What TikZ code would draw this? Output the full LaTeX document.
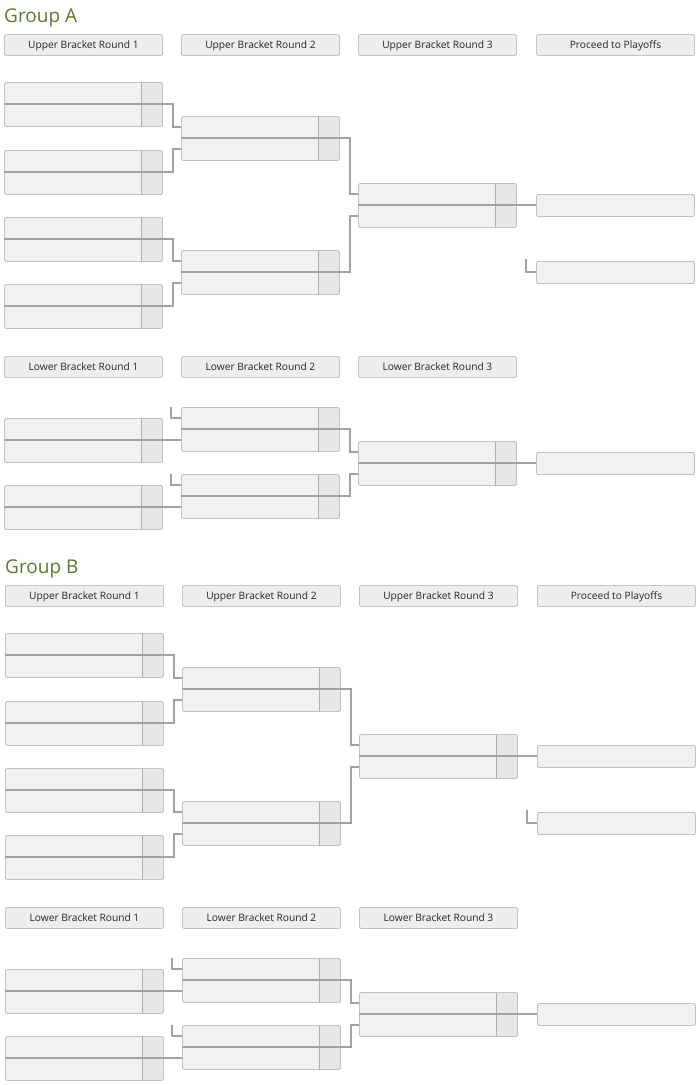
\documentclass[tikz,border=0pt]{standalone}
\usepackage{fontspec}
\setmainfont{Open Sans}
\definecolor{grouptext}{HTML}{5B7A2E}
\definecolor{headfill}{HTML}{EEEEEE}
\definecolor{headline}{HTML}{C4C4C4}
\definecolor{boxfill}{HTML}{F1F1F1}
\definecolor{boxline}{HTML}{C2C2C2}
\definecolor{scorefill}{HTML}{E7E7E7}
\definecolor{cellline}{HTML}{ADADAD}
\definecolor{wireline}{HTML}{A2A2A2}

% one match: box with score column, plus the two slot entry points
\newcommand\bgame[3]{%
  \node[game] (#1) at (#2,#3) {};
  \coordinate (#1t) at ([yshift=11pt]#1.west);
  \coordinate (#1b) at ([yshift=-11pt]#1.west);
}

\begin{document}
\begin{tikzpicture}[x=1pt,y=-1pt,
    grouptitle/.style={anchor=base west,inner sep=0pt,text=grouptext,font=\fontsize{19}{22}\selectfont},
    head/.style={anchor=north west,draw=headline,fill=headfill,line width=0.9pt,rounded corners=1.5pt,
      minimum width=158pt,minimum height=21pt,inner sep=0pt,text height=7.2pt,text depth=0pt,
      font=\fontsize{10.2}{12}\selectfont,text=black!85},
    game/.style={anchor=north west,draw=boxline,fill=boxfill,line width=0.9pt,rounded corners=1.5pt,
      minimum width=158pt,minimum height=44pt,inner sep=0pt,
      path picture={
        \fill[scorefill] ([xshift=-21pt]path picture bounding box.north east) rectangle (path picture bounding box.south east);
        \draw[cellline,line width=1.3pt] ([xshift=-21pt]path picture bounding box.north east) -- ([xshift=-21pt]path picture bounding box.south east);}},
    slot/.style={anchor=north west,draw=boxline,fill=boxfill,line width=0.9pt,rounded corners=1.5pt,
      minimum width=158pt,minimum height=22pt,inner sep=0pt},
    wire/.style={draw=wireline,line width=2pt}]
  \useasboundingbox (0,0) rectangle (700,1085);
  \fill[white] (0,0) rectangle (700,1085);
  \foreach \g/\dx/\dy in {A/0/0,B/1/551}{
    \begin{scope}[shift={(\dx,\dy)}]
      % upper bracket
      \node[grouptitle] (\g-title) at (4,22) {Group \g};
      \node[head] (\g-h1) at (4,34) {Upper Bracket Round 1};
      \node[head] (\g-h2) at (181,34) {Upper Bracket Round 2};
      \node[head] (\g-h3) at (358,34) {Upper Bracket Round 3};
      \node[head] (\g-h4) at (536,34) {Proceed to Playoffs};
      \bgame{\g-u1}{4}{82}
      \bgame{\g-u2}{4}{150}
      \bgame{\g-u3}{4}{217}
      \bgame{\g-u4}{4}{284}
      \bgame{\g-u5}{181}{116}
      \bgame{\g-u6}{181}{250}
      \bgame{\g-u7}{358}{183}
      \node[slot] (\g-p1) at (536,194) {};
      \node[slot] (\g-p2) at (536,261) {};
      \draw[wire] (\g-u1.west) -- (\g-u1.east) -- ++(10,0) |- (\g-u5t);
      \draw[wire] (\g-u2.west) -- (\g-u2.east) -- ++(10,0) |- (\g-u5b);
      \draw[wire] (\g-u3.west) -- (\g-u3.east) -- ++(10,0) |- (\g-u6t);
      \draw[wire] (\g-u4.west) -- (\g-u4.east) -- ++(10,0) |- (\g-u6b);
      \draw[wire] (\g-u5.west) -- (\g-u5.east) -- ++(10,0) |- (\g-u7t);
      \draw[wire] (\g-u6.west) -- (\g-u6.east) -- ++(10,0) |- (\g-u7b);
      \draw[wire] (\g-u7.west) -- (\g-p1.west);
      \coordinate (\g-s1) at ([xshift=-10pt,yshift=13pt]\g-p2.west);
      \draw[wire] (\g-s1) |- (\g-p2.west);
      % lower bracket
      \node[head] (\g-lh1) at (4,356) {Lower Bracket Round 1};
      \node[head] (\g-lh2) at (181,356) {Lower Bracket Round 2};
      \node[head] (\g-lh3) at (358,356) {Lower Bracket Round 3};
      \bgame{\g-l1}{4}{418}
      \bgame{\g-l2}{4}{485}
      \bgame{\g-l3}{181}{407}
      \bgame{\g-l4}{181}{474}
      \bgame{\g-l5}{358}{441}
      \node[slot] (\g-p3) at (536,452) {};
      \draw[wire] (\g-l1.west) -- (\g-l3b);
      \draw[wire] (\g-l2.west) -- (\g-l4b);
      \coordinate (\g-s2) at ([xshift=-10pt]\g-l3.north west);
      \draw[wire] (\g-s2) |- (\g-l3t);
      \coordinate (\g-s3) at ([xshift=-10pt]\g-l4.north west);
      \draw[wire] (\g-s3) |- (\g-l4t);
      \draw[wire] (\g-l3.west) -- (\g-l3.east) -- ++(10,0) |- (\g-l5t);
      \draw[wire] (\g-l4.west) -- (\g-l4.east) -- ++(10,0) |- (\g-l5b);
      \draw[wire] (\g-l5.west) -- (\g-p3.west);
    \end{scope}
  }
\end{tikzpicture}
\end{document}
